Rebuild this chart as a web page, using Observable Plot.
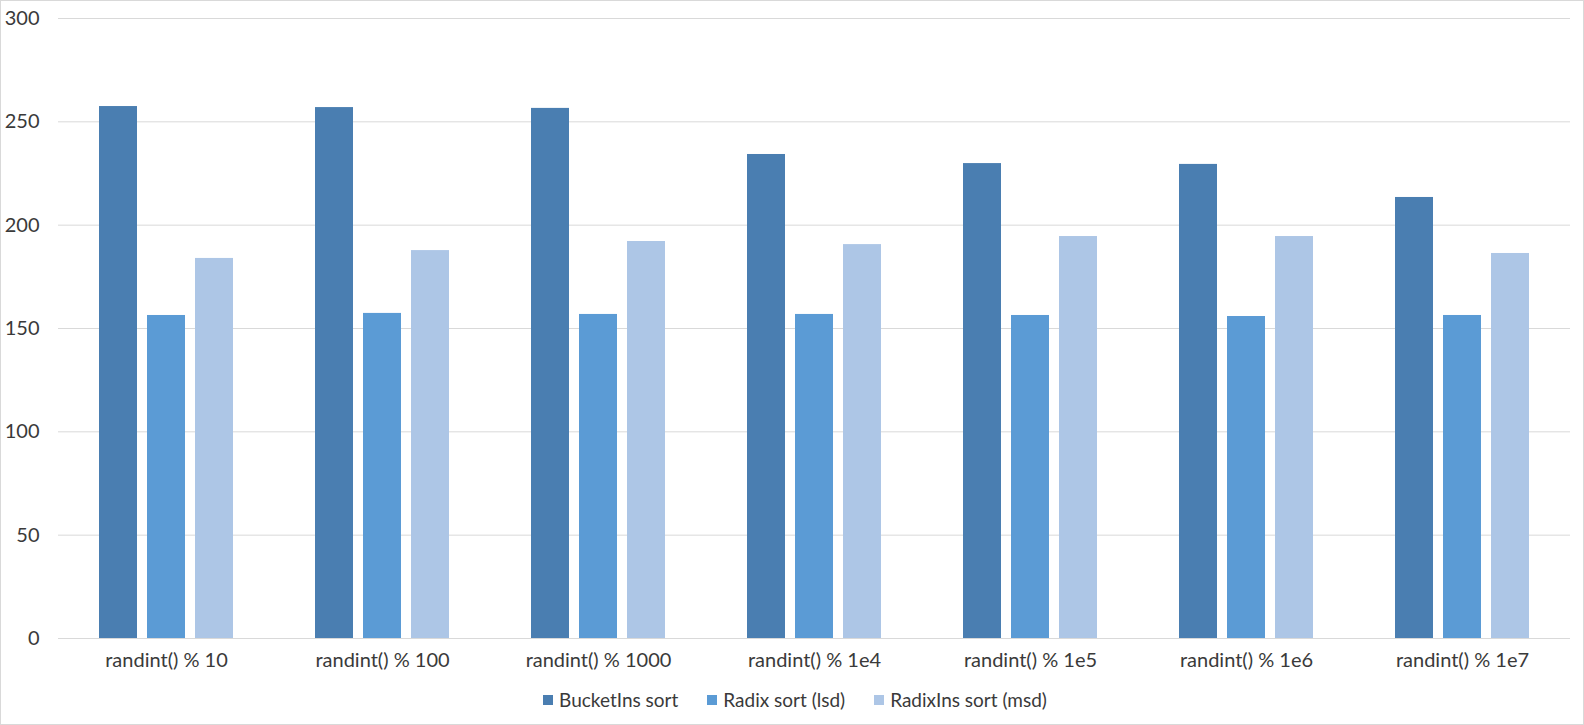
<!DOCTYPE html>
<html>
<head>
<meta charset="utf-8">
<script src="https://cdn.jsdelivr.net/npm/d3@7"></script>
<script src="https://cdn.jsdelivr.net/npm/@observablehq/plot@0.6"></script>
<style>
  html, body { margin: 0; padding: 0; background: #fff; }
  #wrap { position: relative; width: 1584px; height: 725px; overflow: hidden; background: #fff; font-family: Lato, "Open Sans", sans-serif; }
  #wrap svg { position: absolute; left: 0; top: 0; }
  #border { position: absolute; left: 0; top: 0; width: 1584px; height: 725px; box-sizing: border-box; border: 1px solid #d9d9d9; pointer-events: none; }
  #legend { position: absolute; left: 3px; top: 688px; width: 1584px; height: 24px; display: flex; justify-content: center; gap: 29px; font-size: 19px; line-height: 24px; color: #3a3a3a; }
  .item { display: flex; align-items: center; gap: 6px; }
  .sw { width: 10px; height: 10px; display: inline-block; }
</style>
</head>
<body>
<div id="wrap"><div id="legend"></div><div id="border"></div></div>
<script>
const categories = ["randint() % 10", "randint() % 100", "randint() % 1000", "randint() % 1e4", "randint() % 1e5", "randint() % 1e6", "randint() % 1e7"];
const series = ["BucketIns sort", "Radix sort (lsd)", "RadixIns sort (msd)"];
const bucketIns = [257.4, 256.9, 256.5, 234.2, 229.8, 229.4, 213.4];
const radixLsd = [156.3, 157.3, 156.8, 156.8, 156.3, 155.8, 156.3];
const radixInsMsd = [183.9, 187.7, 192.1, 190.6, 194.5, 194.5, 186.3];
const colors = ["#4a7eb1", "#5b9bd5", "#adc6e6"];
const yTicks = [0, 50, 100, 150, 200, 250, 300];

const seriesValues = [bucketIns, radixLsd, radixInsMsd];
const data = [];
categories.forEach((c, i) => {
  series.forEach((s, j) => data.push({category: c, series: s, value: seriesValues[j][i]}));
});

const chart = Plot.plot({
  width: 1584,
  height: 680,
  marginTop: 18,
  marginBottom: 42,
  marginLeft: 57,
  marginRight: 14,
  style: {fontFamily: "Lato, 'Open Sans', sans-serif", fontSize: "20px", color: "#3a3a3a", background: "transparent"},
  fx: {domain: categories, padding: 0, label: null, axis: "bottom", tickSize: 0, tickPadding: 14},
  x: {domain: series, paddingInner: 0.21, paddingOuter: 0.852, axis: null},
  y: {domain: [0, 300], ticks: yTicks, tickSize: 0, tickPadding: 19, label: null, axis: "left"},
  color: {domain: series, range: colors},
  marks: [
    Plot.ruleY(yTicks, {stroke: "#d9d9d9", strokeWidth: 1}),
    Plot.barY(data, {fx: "category", x: "series", y: "value", fill: "series"})
  ]
});
document.getElementById("wrap").prepend(chart);

const legend = document.getElementById("legend");
series.forEach((s, j) => {
  const item = document.createElement("div");
  item.className = "item";
  const sw = document.createElement("span");
  sw.className = "sw";
  sw.style.background = colors[j];
  const t = document.createElement("span");
  t.textContent = s;
  item.appendChild(sw);
  item.appendChild(t);
  legend.appendChild(item);
});
</script>
</body>
</html>
